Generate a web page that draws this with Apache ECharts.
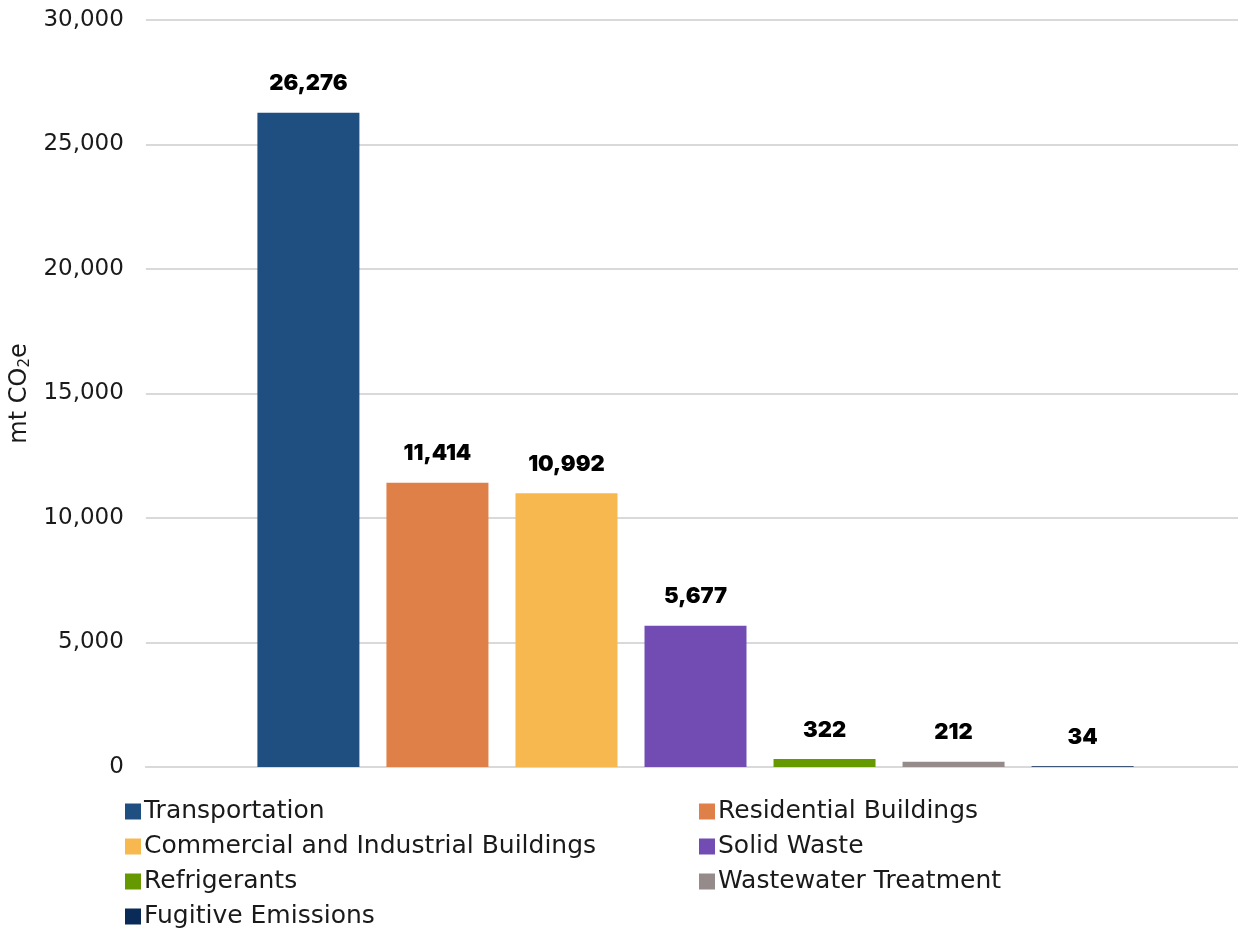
<!DOCTYPE html>
<html>
<head>
<meta charset="utf-8">
<script src="https://cdn.jsdelivr.net/npm/echarts@6/dist/echarts.min.js"></script>
<style>html,body{margin:0;padding:0;background:#fff}#c{width:1238px;height:930px}</style>
</head>
<body>
<div id="c"></div>
<script>
const seriesNames = ["Transportation","Residential Buildings","Commercial and Industrial Buildings","Solid Waste","Refrigerants","Wastewater Treatment","Fugitive Emissions"];
const seriesValues = [26276, 11414, 10992, 5677, 322, 212, 34];
const seriesColors = ["#1F4E80","#DE8048","#F7B84F","#734CB3","#669900","#958B8A","#0A2A57"];
const categories = [""];
const yTicks = [0, 5000, 10000, 15000, 20000, 25000, 30000];

const fmt = v => Number(v).toLocaleString('en-US');
const legendBase = {
  orient:'vertical', top:794, height:136, itemWidth:16, itemHeight:16, itemGap:10, icon:'rect',
  textStyle:{fontFamily:'DejaVu Sans', fontSize:25, lineHeight:25, color:'#1a1a1a', padding:[0,0,0,-2]}
};
const yMin = yTicks[0], yMax = yTicks[yTicks.length-1];
const chart = echarts.init(document.getElementById('c'), null, {renderer:'canvas'});
chart.setOption({
  animation:false,
  backgroundColor:'#fff',
  grid:[
    {left:145, right:0, top:20, bottom:163},
    {left:153, right:0, top:20, bottom:163}
  ],
  legend:[
    Object.assign({left:120, data: seriesNames.filter((_,i)=>i%2===0)}, legendBase),
    Object.assign({left:694, data: seriesNames.filter((_,i)=>i%2===1)}, legendBase)
  ],
  xAxis:[
    {gridIndex:0, type:'category', data:categories, axisLabel:{show:false}, axisTick:{show:false},
      axisLine:{show:true, lineStyle:{color:'#d9d9d9', width:2}}},
    {gridIndex:1, type:'category', data:categories, show:false}
  ],
  yAxis:[
    {gridIndex:0, type:'value', min:yMin, max:yMax, interval:5000,
      name:'mt CO{sub|2}e', nameLocation:'middle', nameGap:112, nameRotate:90,
      nameTextStyle:{fontFamily:'DejaVu Sans', fontSize:24, color:'#1a1a1a',
        rich:{sub:{fontFamily:'DejaVu Sans', fontSize:15, color:'#1a1a1a', verticalAlign:'bottom', padding:[10,0,0,0]}}},
      axisLabel:{formatter:fmt, fontFamily:'DejaVu Sans', fontSize:23, color:'#1a1a1a', margin:22},
      splitLine:{lineStyle:{color:'#d9d9d9', width:2}},
      axisLine:{show:false}, axisTick:{show:false}},
    {gridIndex:1, type:'value', min:yMin, max:yMax, interval:5000, show:false, splitLine:{show:false}}
  ],
  series: seriesNames.map((n,i)=>({
    name:n, type:'bar', xAxisIndex:1, yAxisIndex:1, data:[seriesValues[i]], barWidth:102, barGap:'26.5%',
    itemStyle:{color:seriesColors[i]},
    label:{show:true, position:'top', distance:18, formatter:p=>fmt(p.value),
      fontFamily:'Inter', fontWeight:900, fontSize:22, color:'#000'}
  }))
});
</script>
</body>
</html>
